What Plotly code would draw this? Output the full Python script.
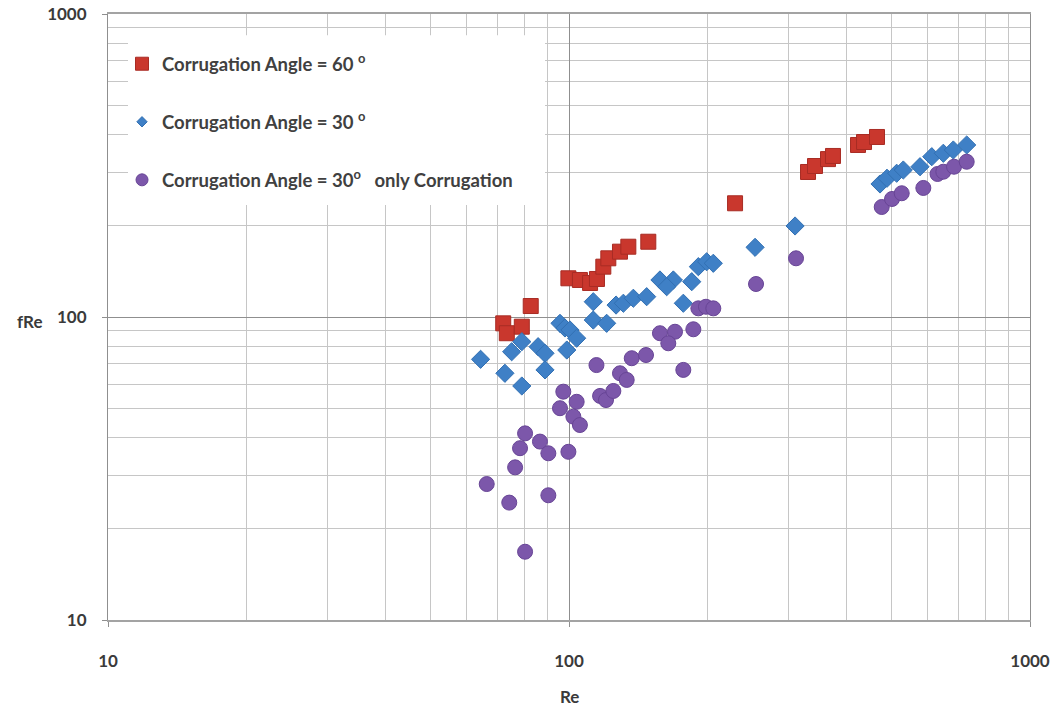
import plotly.graph_objects as go

# Friction factor data: fRe against Re for three corrugation setups
re_60 = [72.0, 73.3, 79.0, 82.6, 99.7, 105.6, 111.1, 115.0, 118.7, 121.7, 129.0,
         134.5, 148.6, 229.2, 330.0, 341.7, 364.6, 373.8, 423.6, 436.5, 465.7]
fre_60 = [95.3, 88.4, 92.9, 108.7, 134.2, 132.5, 129.5, 133.5, 146.6, 156.2, 164.3,
          170.6, 177.2, 237.3, 301.0, 315.0, 332.0, 340.0, 369.6, 378.0, 392.8]

re_30 = [64.3, 72.6, 79.0, 75.1, 79.0, 85.7, 88.7, 88.7, 95.6, 98.0, 100.5, 103.9,
         98.9, 112.9, 112.9, 120.7, 126.5, 131.2, 137.9, 147.4, 157.5, 168.4,
         162.9, 184.6, 177.0, 190.8, 198.9, 205.6, 253.3, 309.3, 472.8, 489.6,
         513.8, 531.1, 577.3, 612.2, 648.6, 681.8, 728.9]
fre_30 = [72.5, 65.2, 59.2, 76.8, 82.9, 79.8, 75.9, 66.9, 95.3, 92.0, 90.6, 85.1,
          77.8, 112.3, 97.7, 95.3, 109.5, 111.0, 115.3, 116.7, 132.5, 132.5,
          125.9, 130.8, 111.0, 146.6, 152.2, 150.4, 169.8, 199.7, 274.8, 287.0,
          298.1, 305.6, 313.3, 338.1, 347.0, 355.8, 369.6]

re_30c = [66.3, 74.2, 76.4, 78.3, 80.3, 80.3, 86.5, 90.2, 90.2, 99.7, 97.2, 103.9,
          95.6, 102.2, 105.6, 114.7, 116.8, 120.3, 124.8, 129.0, 133.4, 136.8,
          146.9, 157.5, 169.8, 164.2, 186.1, 177.0, 190.8, 198.2, 205.6, 254.5,
          310.8, 476.8, 502.0, 526.9, 587.0, 630.1, 648.6, 684.2, 728.9]
fre_30c = [28.1, 24.4, 31.9, 36.9, 41.3, 16.8, 38.8, 35.5, 25.8, 35.9, 56.7, 52.5,
           50.0, 46.9, 44.0, 69.4, 54.9, 53.2, 57.0, 65.2, 62.0, 73.1,
           74.9, 88.4, 89.4, 81.9, 91.1, 66.9, 106.8, 108.1, 106.8, 128.5,
           156.2, 230.7, 245.2, 256.1, 266.6, 296.5, 301.6, 313.3, 325.4]

decade_ticks = [10, 100, 1000]
decade_labels = ["10", "100", "1000"]
minor_ticks = [20, 30, 40, 50, 60, 70, 80, 90, 200, 300, 400, 500, 600, 700, 800, 900]

names = [
    "Corrugation Angle = 60 <sup>o</sup>",
    "Corrugation Angle = 30 <sup>o</sup>",
    "Corrugation Angle = 30<sup>o</sup>\u00a0\u00a0\u00a0only Corrugation",
]

RED, RED_EDGE = "#C9372D", "#A82C24"
BLUE, BLUE_EDGE = "#3F80C6", "#3270B3"
PURPLE, PURPLE_EDGE = "#7C57AA", "#684596"

fig = go.Figure()

series = [
    (re_60, fre_60, "square", 15, RED, RED_EDGE, 13),
    (re_30, fre_30, "diamond", 14, BLUE, BLUE_EDGE, 8),
    (re_30c, fre_30c, "circle", 15, PURPLE, PURPLE_EDGE, 12),
]

for i, (xs, ys, sym, size, col, edge, leg_size) in enumerate(series):
    fig.add_trace(go.Scatter(
        x=xs, y=ys, mode="markers", showlegend=False, hoverinfo="x+y",
        marker=dict(symbol=sym, size=size, color=col, line=dict(color=edge, width=1)),
    ))
    # legend entry with its own marker size
    fig.add_trace(go.Scatter(
        x=[None], y=[None], mode="markers", name=names[i], legendgroup=f"g{i}",
        marker=dict(symbol=sym, size=leg_size, color=col, line=dict(color=edge, width=1)),
    ))

tick_font = dict(family="Lato", size=17, color="#3a3a3a", weight="bold")
axis_common = dict(
    type="log", range=[1, 3], tickvals=decade_ticks, ticktext=decade_labels,
    showgrid=True, gridcolor="#8f8f8f", gridwidth=1,
    showline=True, linecolor="#8f8f8f", linewidth=1, mirror=True,
    ticks="outside", ticklen=5, tickcolor="#8f8f8f",
    tickfont=tick_font, zeroline=False, automargin=False,
    minor=dict(tickvals=minor_ticks, showgrid=True, gridcolor="#c6c6c6", gridwidth=1, ticks=""),
)

fig.update_layout(
    width=1058, height=711,
    margin=dict(l=108, r=28, t=14, b=91, autoexpand=False),
    paper_bgcolor="white", plot_bgcolor="white",
    xaxis=dict(axis_common, ticklabelstandoff=20, linewidth=2, linecolor="#a3a3a3"),
    yaxis=dict(axis_common, ticklabelstandoff=12),
    legend=dict(
        x=0.0152, y=0.9485, xanchor="left", yanchor="top",
        bgcolor="rgba(0,0,0,0)", borderwidth=0,
        font=dict(family="Lato", size=18.5, color="#404040", weight="bold"),
        tracegroupgap=31, itemwidth=30, traceorder="grouped",
    ),
    shapes=[dict(
        type="rect", xref="paper", yref="paper",
        x0=0.0217, x1=0.474, y0=0.685, y1=0.965,
        fillcolor="white", line=dict(width=0), layer="above",
    )],
    annotations=[
        dict(text="fRe", xref="paper", yref="paper", x=-0.085, y=0.492,
             showarrow=False, font=tick_font, xanchor="center", yanchor="middle"),
        dict(text="Re", xref="paper", yref="paper", x=0.5, y=-0.127,
             showarrow=False, font=tick_font, xanchor="center", yanchor="middle"),
    ],
)

fig.write_html("out.html")
